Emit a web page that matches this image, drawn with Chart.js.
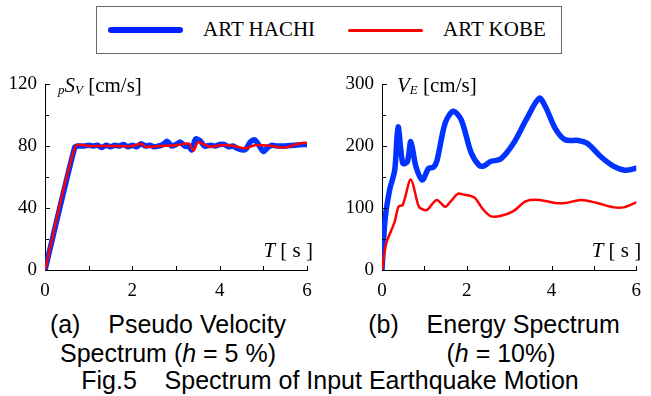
<!DOCTYPE html>
<html><head><meta charset="utf-8">
<script src="https://cdn.jsdelivr.net/npm/chart.js@4/dist/chart.umd.min.js"></script>
<style>
html,body{margin:0;padding:0;background:#fff;}
body{width:651px;height:396px;overflow:hidden;position:relative;}
canvas{position:absolute;}
#legend{position:absolute;left:96px;top:6px;width:466px;height:48px;box-sizing:border-box;border:1.5px solid #666;}
.sw{position:absolute;border-radius:4px;}
.lt{position:absolute;font-family:'Liberation Serif',serif;font-size:21px;line-height:21px;white-space:pre;color:#000;}
.cap{position:absolute;font-family:'Liberation Sans',Arial,sans-serif;font-size:25px;line-height:29px;white-space:pre;text-align:center;color:#000;width:600px;}
</style></head>
<body>
<div id="legend"></div>
<div class="sw" style="left:108px;top:27px;width:75px;height:6px;background:#0022ff;"></div>
<div class="lt" style="left:203px;top:19px;">ART HACHI</div>
<div class="sw" style="left:348px;top:28.5px;width:75px;height:3px;background:#ff0000;border-radius:2px;"></div>
<div class="lt" style="left:443px;top:19px;">ART KOBE</div>
<canvas id="c1" width="325" height="250" style="left:0;top:60px;"></canvas>
<canvas id="c2" width="321" height="250" style="left:330px;top:60px;"></canvas>
<div class="cap" style="left:-132px;top:310px;">(a)    Pseudo Velocity</div>
<div class="cap" style="left:-132px;top:339px;">Spectrum (<i>h</i> = 5 %)</div>
<div class="cap" style="left:194px;top:310px;">(b)    Energy Spectrum</div>
<div class="cap" style="left:201px;top:339px;">(<i>h</i> = 10%)</div>
<div class="cap" style="left:30px;top:366px;">Fig.5    Spectrum of Input Earthquake Motion</div>
<script>
// ---- data ----
const seriesNames = ['ART HACHI', 'ART KOBE'];
const xTickValues = [0, 2, 4, 6];
// (a) Pseudo velocity spectrum pSv [cm/s], h = 5 %
const hachiPsvT = [0,0.68,0.75,0.9,1.0,1.1,1.2,1.3,1.4,1.5,1.6,1.7,1.8,1.9,2.0,2.1,2.2,2.3,2.4,2.5,2.6,2.7,2.8,2.9,3.0,3.1,3.2,3.3,3.36,3.45,3.55,3.65,3.8,3.9,4.0,4.1,4.2,4.3,4.4,4.5,4.6,4.7,4.8,4.9,5.0,5.1,5.2,5.3,5.5,5.7,5.9,6.0];
const hachiPsv  = [0,79,80,80,80.5,80,80.5,79,80.5,79.5,80.5,80,81,79.5,80.5,79.5,81.5,80,80.5,79.5,80,81,83,80,81,82.5,80,79.5,77.5,84.5,83.5,80,80.5,80,81,81,79.5,80,78.5,77.5,78,82.5,84,80.5,76.5,79,80.5,80,80,80.5,81,81];
const kobePsvT  = [0,0.7,1.0,1.5,2.0,2.2,2.3,2.6,3.0,3.3,3.4,3.5,3.6,3.8,4.0,4.2,4.4,4.6,4.8,5.0,5.2,5.5,5.8,6.0];
const kobePsv   = [0,80,80,80,80,81.5,79.5,80,80.5,81.5,77,82.5,81.5,79.5,80.5,80.5,79.5,78.5,80.5,80.5,80,79,81.5,82];
// (b) Energy spectrum VE [cm/s], h = 10 %
const hachiVeT = [0,0.07,0.18,0.3,0.38,0.49,0.6,0.68,0.8,0.95,1.1,1.22,1.3,1.49,1.68,1.87,2.1,2.29,2.41,2.56,2.8,3.1,3.4,3.71,3.86,4.09,4.32,4.63,4.85,5.16,5.47,5.73,6.0];
const hachiVe  = [0,80,129,161,231,172,175,207,167,145,164,166,177,237,256,242,190,169,168,175,179,204,242,277,263,228,210,209,204,183,167,161,164];
const kobeVeT  = [0,0.1,0.22,0.3,0.39,0.49,0.68,0.87,0.99,1.07,1.29,1.49,1.6,1.79,1.9,2.18,2.37,2.56,2.79,3.1,3.4,3.71,4.09,4.32,4.7,5.08,5.47,5.7,6.0];
const kobeVe   = [0,43,64,78,102,105,146,102,97,97,113,102,109,123,122,117,99,87,87,95,111,113,108,108,113,108,101,101,109];

const BLUE = '#0033ff', RED = '#ff0000';
const SERIF = "'Liberation Serif', 'Times New Roman', serif";
Chart.defaults.font.family = SERIF;
Chart.defaults.font.size = 19;
Chart.defaults.color = '#000';

function pts(t, v) { return t.map((x, i) => ({x: x, y: v[i]})); }

function richText(ctx, parts, x, y) {
  for (const p of parts) {
    ctx.font = p.f;
    ctx.fillText(p.t, x, y + (p.dy || 0));
    x += ctx.measureText(p.t).width;
  }
}
function richWidth(ctx, parts) {
  let w = 0;
  for (const p of parts) { ctx.font = p.f; w += ctx.measureText(p.t).width; }
  return w;
}

const axisDecor = {
  id: 'axisDecor',
  afterDraw(chart, args, o) {
    const {ctx, chartArea: a, scales: {x, y}} = chart;
    ctx.save();
    ctx.strokeStyle = '#000';
    ctx.lineWidth = 1;
    ctx.beginPath();
    for (let v = o.xStep; v <= 6 + 1e-9; v += o.xStep) {
      const px = Math.round(x.getPixelForValue(v)) + 0.5;
      ctx.moveTo(px, a.bottom); ctx.lineTo(px, a.bottom - 4);
    }
    for (let v = o.yMinor; v <= y.max + 1e-9; v += o.yMinor) {
      const py = Math.round(y.getPixelForValue(v)) + 0.5;
      const major = Math.abs((v / o.yMajor) - Math.round(v / o.yMajor)) < 1e-6;
      ctx.moveTo(a.left, py); ctx.lineTo(a.left + (major ? 5 : 4), py);
    }
    ctx.stroke();
    ctx.fillStyle = '#000';
    ctx.textBaseline = 'alphabetic';
    ctx.textAlign = 'left';
    richText(ctx, o.yTitle, a.left + o.yTitleDx, a.top + 8);
    const tParts = [{t: 'T', f: 'italic 21px ' + SERIF}, {t: ' [ s ]', f: '21px ' + SERIF}];
    const w = richWidth(ctx, tParts);
    richText(ctx, tParts, a.right + o.tDx - w, a.bottom - 13);
    ctx.restore();
  }
};

function makeChart(id, blue, red, yMax, yStep, padRight, yWidth, decor) {
  return new Chart(document.getElementById(id), {
    type: 'line',
    data: {
      datasets: [
        {label: seriesNames[1], data: red, borderColor: RED, borderWidth: 2.5, tension: 0.3},
        {label: seriesNames[0], data: blue, borderColor: BLUE, borderWidth: 5.5, tension: 0.3}
      ]
    },
    options: {
      responsive: false, animation: false, devicePixelRatio: 1,
      layout: {padding: {left: 0, right: padRight, top: 24, bottom: 0}},
      elements: {point: {radius: 0}, line: {borderCapStyle: 'round', borderJoinStyle: 'round', fill: false}},
      plugins: {legend: {display: false}, tooltip: {enabled: false}, axisDecor: decor},
      scales: {
        x: {
          type: 'linear', min: 0, max: 6,
          afterBuildTicks: s => { s.ticks = xTickValues.map(v => ({value: v})); },
          ticks: {font: {family: SERIF, size: 19}, color: '#000', padding: 10, maxRotation: 0},
          grid: {display: true, drawOnChartArea: false, drawTicks: false},
          border: {display: true, color: '#000', width: 1},
          afterFit: s => { s.height = 40; }
        },
        y: {
          type: 'linear', min: 0, max: yMax,
          ticks: {stepSize: yStep, font: {family: SERIF, size: 19}, color: '#000', padding: 8},
          grid: {display: true, drawOnChartArea: false, drawTicks: false},
          border: {display: true, color: '#000', width: 1},
          afterFit: s => { s.width = yWidth; }
        }
      }
    },
    plugins: [axisDecor]
  });
}

makeChart('c1', pts(hachiPsvT, hachiPsv), pts(kobePsvT, kobePsv), 120, 40, 18, 45, {
  xStep: 1, yMinor: 20, yMajor: 40, yTitleDx: 13, tDx: 6,
  yTitle: [
    {t: 'p', f: 'italic 13px ' + SERIF, dy: 2},
    {t: 'S', f: 'italic 21px ' + SERIF},
    {t: 'V', f: 'italic 13px ' + SERIF, dy: 2},
    {t: ' [cm/s]', f: '21px ' + SERIF}
  ]
});
makeChart('c2', pts(hachiVeT, hachiVe), pts(kobeVeT, kobeVe), 300, 100, 8, 52, {
  xStep: 1, yMinor: 50, yMajor: 100, yTitleDx: 15, tDx: 5,
  yTitle: [
    {t: 'V', f: 'italic 21px ' + SERIF},
    {t: 'E', f: 'italic 13px ' + SERIF, dy: 2},
    {t: ' [cm/s]', f: '21px ' + SERIF}
  ]
});
</script>
</body></html>
